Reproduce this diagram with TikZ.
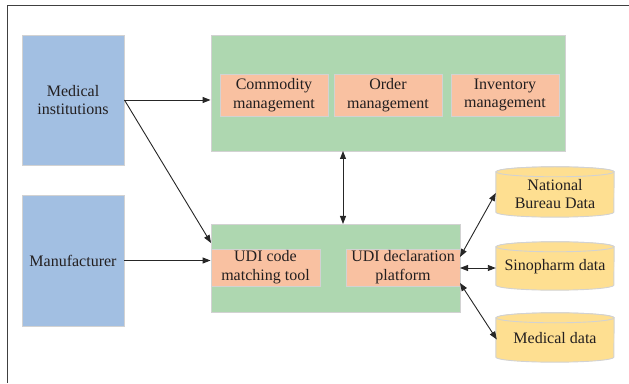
\documentclass[tikz,border=0pt]{standalone}
\usepackage{fontspec}
\setmainfont{Liberation Serif}
\usetikzlibrary{arrows.meta,calc}
\definecolor{bluebox}{HTML}{A2BFE2}
\definecolor{greenbox}{HTML}{AED7B0}
\definecolor{orangebox}{HTML}{F9C1A1}
\definecolor{yellowbox}{HTML}{FEDF91}
\definecolor{edgegray}{HTML}{D2D2D2}
\definecolor{txt}{HTML}{231F20}
\tikzset{
  base/.style={draw=edgegray, line width=0.9pt, inner sep=0pt, align=center, text=txt,
    font=\fontsize{16}{18.8}\selectfont},
  bluebx/.style={base, fill=bluebox},
  greenbx/.style={base, fill=greenbox},
  orangebx/.style={base, fill=orangebox},
  cylnode/.style={inner sep=0pt, align=center, text=txt, font=\fontsize{16}{18.8}\selectfont,
    minimum width=118pt},
  cyl/.style={draw=edgegray, line width=0.9pt, fill=yellowbox},
  arr/.style={draw=black!85, line width=0.9pt, -{Triangle[length=8pt,width=6pt]}},
  darr/.style={draw=black!85, line width=0.9pt, {Triangle[length=8pt,width=6pt]}-{Triangle[length=8pt,width=6pt]}},
}
\newcommand{\mycyl}[1]{%
  \path[cyl] ($(#1.north west)+(0,-5)$) -- ($(#1.south west)+(0,5)$)
    arc[start angle=180,end angle=360,x radius=59pt,y radius=5pt]
    -- ($(#1.north east)+(0,-5)$)
    arc[start angle=0,end angle=180,x radius=59pt,y radius=5pt] -- cycle;
  \path[cyl] ($(#1.north)+(0,-5)$) ellipse[x radius=59pt,y radius=5pt];}
\begin{document}
\begin{tikzpicture}[x=1pt,y=1pt]
\useasboundingbox (0,0) rectangle (629,383);
\draw[line width=1pt, black!75] (629,377) -- (7,377) -- (7,0);

\node[bluebx, minimum width=102pt, minimum height=130pt] (medinst) at (73,283) {Medical\\institutions};
\node[bluebx, minimum width=102pt, minimum height=131pt] (manuf) at (73,122.5) {Manufacturer};

\node[greenbx, minimum width=354pt, minimum height=116pt] (topg) at (388,290) {};
\node[orangebx, minimum width=108pt, minimum height=42pt] (comm) at (274,288) {Commodity\\management};
\node[orangebx, minimum width=108pt, minimum height=42pt] (order) at (388,288) {Order\\management};
\node[orangebx, minimum width=108pt, minimum height=42pt] (inv) at (505,288) {Inventory\\management};

\node[greenbx, minimum width=249pt, minimum height=88pt] (botg) at (335.5,115) {};
\node[orangebx, minimum width=109pt, minimum height=37pt] (udicode) at (265.5,115.5) {UDI code\\matching tool};
\node[orangebx, minimum width=114pt, minimum height=37pt] (udidecl) at (403,115.5) {UDI declaration\\platform};

\node[cylnode, minimum height=50pt] (nat) at (555,191) {};
\node[cylnode, minimum height=48pt] (sino) at (555,117) {};
\node[cylnode, minimum height=49pt] (medd) at (555,45.5) {};
\mycyl{nat}\mycyl{sino}\mycyl{medd}
\node[cylnode] (natt) at (555,189) {National\\Bureau Data};
\node[cylnode] (sinot) at (555,116) {Sinopharm data};
\node[cylnode] (meddt) at (555,45) {Medical data};

\coordinate (bgin) at (211,140);
\coordinate (vtop) at (343,232);
\coordinate (vbot) at (343,159);
\draw[arr] (medinst.east) -- (medinst.east -| topg.west);
\draw[arr] (medinst.east) -- (bgin);
\draw[arr] (manuf.east) -- (manuf.east -| botg.west);
\draw[darr] (vtop) -- (vbot);
\coordinate (d1) at (460,126);
\coordinate (d2) at (460,115);
\coordinate (d3) at (460,100);
\draw[darr] (d1) -- ($(nat.west)+(0,-1)$);
\draw[darr] (d2) -- (d2 -| sino.west);
\draw[darr] (d3) -- ($(medd.west)+(1,-2)$);
\end{tikzpicture}
\end{document}
